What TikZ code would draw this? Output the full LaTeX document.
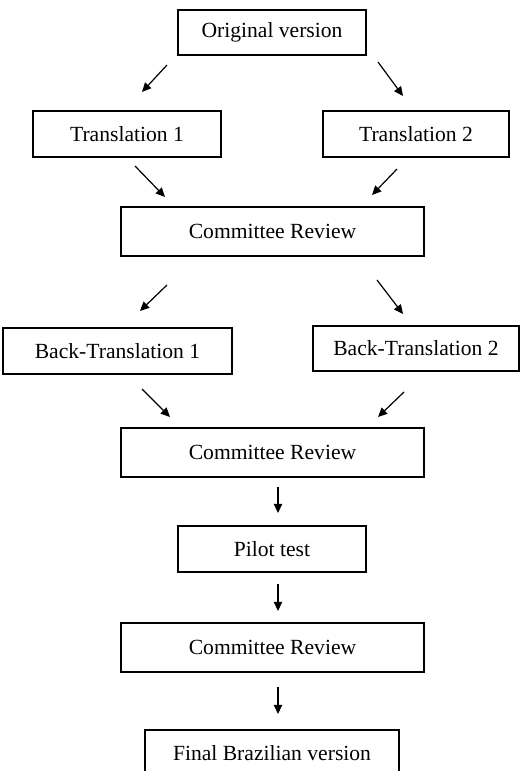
\documentclass[tikz,border=0pt]{standalone}
\usepackage{fontspec}
\setmainfont{Liberation Serif}
\usetikzlibrary{arrows.meta}
\tikzset{
  stagebox/.style={draw,line width=0.65pt,inner sep=0pt,
    font=\fontsize{10.8}{13}\selectfont},
  flowarr/.style={-{Triangle[length=4.6pt,width=4.2pt]},line width=0.6pt},
}

\begin{document}
\begin{tikzpicture}[x=0.5pt,y=-0.5pt]
  \useasboundingbox (0,0) rectangle (520,771);
  \clip (0,0) rectangle (520,771);
  % boxes, in pixel coordinates of the reference
  \node[stagebox,minimum width=94pt,minimum height=22.5pt] (orig) at (272,32.5) {Original version};
  \node[stagebox,minimum width=94pt,minimum height=23pt] (tra) at (127,134) {Translation 1};
  \node[stagebox,minimum width=93pt,minimum height=23pt] (trb) at (416,134) {Translation 2};
  \node[stagebox,minimum width=151.5pt,minimum height=24.5pt] (revA) at (272.5,231.5) {Committee Review};
  \node[stagebox,minimum width=114.5pt,minimum height=23pt] (backa) at (117.5,351) {Back-Translation 1};
  \node[stagebox,minimum width=103pt,minimum height=22.5pt] (backb) at (416,348.5) {Back-Translation 2};
  \node[stagebox,minimum width=151.5pt,minimum height=24.5pt] (revB) at (272.5,452.5) {Committee Review};
  \node[stagebox,minimum width=94pt,minimum height=23pt] (pilot) at (272,549) {Pilot test};
  \node[stagebox,minimum width=151.5pt,minimum height=24.5pt] (revC) at (272.5,647.5) {Committee Review};
  \node[stagebox,minimum width=127pt,minimum height=23pt] (final) at (272,753) {Final Brazilian version};
  % arrow ends
  \coordinate (oa1) at (167,65);  \coordinate (oa2) at (142,92);
  \coordinate (ob1) at (378,62);  \coordinate (ob2) at (403,96);
  \coordinate (ta1) at (135,166); \coordinate (ta2) at (165,197);
  \coordinate (tb1) at (397,169); \coordinate (tb2) at (372,195);
  \coordinate (ra1) at (167,285); \coordinate (ra2) at (140,311);
  \coordinate (rb1) at (377,280); \coordinate (rb2) at (403,314);
  \coordinate (ba1) at (142,389); \coordinate (ba2) at (170,417);
  \coordinate (bb1) at (404,392); \coordinate (bb2) at (378,417);
  \coordinate (p1) at (278,487);  \coordinate (p2) at (278,513);
  \coordinate (c1) at (278,584);  \coordinate (c2) at (278,611);
  \coordinate (f1) at (278,687);  \coordinate (f2) at (278,714);
  \foreach \s/\e in {oa1/oa2,ob1/ob2,ta1/ta2,tb1/tb2,ra1/ra2,rb1/rb2,
                     ba1/ba2,bb1/bb2,p1/p2,c1/c2,f1/f2}
    \draw[flowarr] (\s) -- (\e);
\end{tikzpicture}
\end{document}
